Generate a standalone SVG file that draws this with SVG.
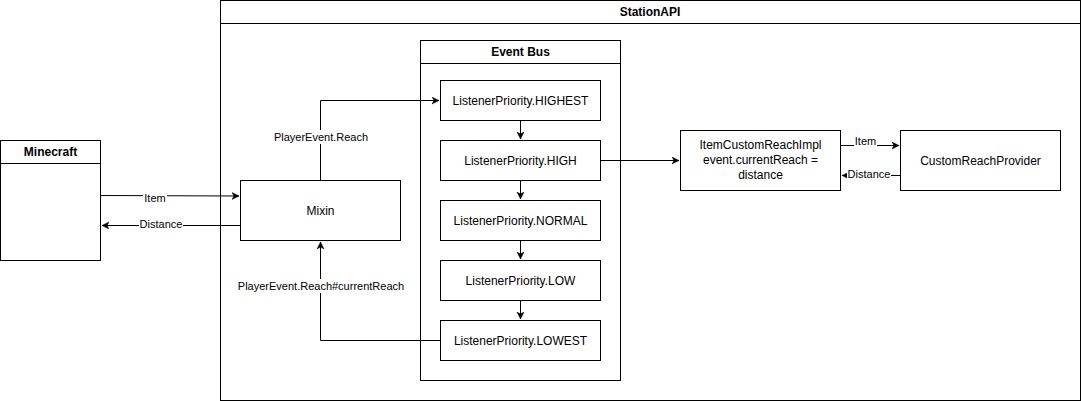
<svg xmlns="http://www.w3.org/2000/svg" width="1081" height="401" viewBox="0 0 1081 401">
<style>
.box{fill:#fff;stroke:#000;stroke-width:1}
.ln{fill:none;stroke:#000;stroke-width:1}
.t{font-family:"Liberation Sans",Arial,sans-serif;font-size:12px;fill:#000;text-anchor:middle;dominant-baseline:central}
.b{font-weight:bold}
.lb{font-family:"Liberation Sans",Arial,sans-serif;font-size:11px;fill:#000;text-anchor:middle;dominant-baseline:central}
.bg{fill:#fff;stroke:none}
</style>
<defs>
<marker id="arr" markerWidth="10" markerHeight="10" refX="7" refY="3.5" orient="auto" markerUnits="userSpaceOnUse">
<path d="M0,0 L7,3.5 L0,7 L2,3.5 z" fill="#000" stroke="#000" stroke-width="0.5"/>
</marker>
</defs>
<rect width="1081" height="401" fill="#fff"/>
<g id="stationapi">
<rect class="box" x="220.5" y="0.5" width="860" height="400"/>
<line class="ln" x1="220.5" y1="23.5" x2="1080.5" y2="23.5"/>
<text class="t b" x="650" y="12">StationAPI</text>
</g>
<g id="minecraft">
<rect class="box" x="0.5" y="140.5" width="100" height="120"/>
<line class="ln" x1="0.5" y1="163.5" x2="100.5" y2="163.5"/>
<text class="t b" x="50.5" y="152">Minecraft</text>
</g>
<g id="eventbus">
<rect class="box" x="420.5" y="40.5" width="200" height="340"/>
<line class="ln" x1="420.5" y1="63.5" x2="620.5" y2="63.5"/>
<text class="t b" x="520.5" y="52">Event Bus</text>
</g>
<g id="highest"><rect class="box" x="440.5" y="80.5" width="160" height="40"/><text class="t" x="520.5" y="100.5">ListenerPriority.HIGHEST</text></g>
<g id="high"><rect class="box" x="440.5" y="140.5" width="160" height="40"/><text class="t" x="520.5" y="160.5">ListenerPriority.HIGH</text></g>
<g id="normal"><rect class="box" x="440.5" y="200.5" width="160" height="40"/><text class="t" x="520.5" y="220.5">ListenerPriority.NORMAL</text></g>
<g id="low"><rect class="box" x="440.5" y="260.5" width="160" height="40"/><text class="t" x="520.5" y="280.5">ListenerPriority.LOW</text></g>
<g id="lowest"><rect class="box" x="440.5" y="320.5" width="160" height="40"/><text class="t" x="520.5" y="340.5">ListenerPriority.LOWEST</text></g>
<g id="mixin"><rect class="box" x="240.5" y="180.5" width="160" height="60"/><text class="t" x="320.5" y="210.5">Mixin</text></g>
<g id="impl"><rect class="box" x="680.5" y="130.5" width="160" height="60"/>
<text class="t" x="760.5" y="145">ItemCustomReachImpl</text>
<text class="t" x="760.5" y="160">event.currentReach =</text>
<text class="t" x="760.5" y="175">distance</text></g>
<g id="provider"><rect class="box" x="900.5" y="130.5" width="160" height="60"/><text class="t" x="980.5" y="160.5">CustomReachProvider</text></g>
<g id="connectors">
<path class="ln" d="M100.5,195.5 L239,196" marker-end="url(#arr)"/>
<rect class="bg" x="143" y="191" width="24" height="13"/>
<text class="lb" x="155" y="198">Item</text>
<path class="ln" d="M240.5,225.5 L102,225.5" marker-end="url(#arr)"/>
<rect class="bg" x="139" y="218" width="44" height="13"/>
<text class="lb" x="161" y="224">Distance</text>
<path class="ln" d="M320.5,180.5 L320.5,100.5 L439,100.5" marker-end="url(#arr)"/>
<rect class="bg" x="273" y="130" width="96" height="14"/>
<text class="lb" x="321" y="137">PlayerEvent.Reach</text>
<path class="ln" d="M440.5,340.5 L320.5,340.5 L320.5,242" marker-end="url(#arr)"/>
<rect class="bg" x="237" y="279" width="168" height="14"/>
<text class="lb" x="321" y="286">PlayerEvent.Reach#currentReach</text>
<path class="ln" d="M520.5,120.5 L520.5,139" marker-end="url(#arr)"/>
<path class="ln" d="M520.5,180.5 L520.5,199" marker-end="url(#arr)"/>
<path class="ln" d="M520.5,240.5 L520.5,259" marker-end="url(#arr)"/>
<path class="ln" d="M520.5,300.5 L520.5,319" marker-end="url(#arr)"/>
<path class="ln" d="M600.5,160.5 L679,160.5" marker-end="url(#arr)"/>
<path class="ln" d="M840.5,145.5 L899,145.5" marker-end="url(#arr)"/>
<rect class="bg" x="854" y="135" width="23" height="11"/>
<text class="lb" x="865.5" y="141">Item</text>
<path class="ln" d="M900.5,175.5 L842,175.5" marker-end="url(#arr)"/>
<rect class="bg" x="847" y="168" width="44" height="13"/>
<text class="lb" x="869" y="174">Distance</text>
</g>
</svg>
